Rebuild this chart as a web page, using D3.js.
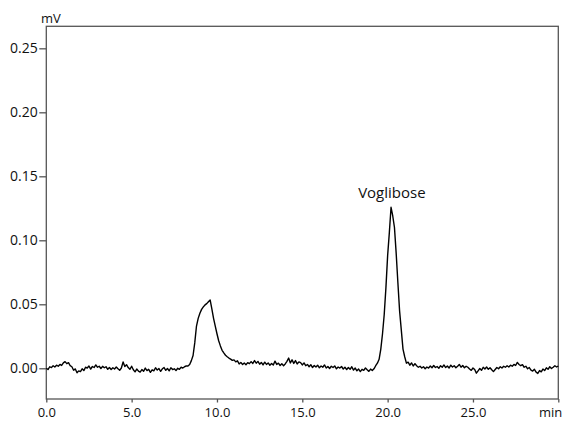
<!DOCTYPE html>
<html>
<head>
<meta charset="utf-8">
<script src="https://cdn.jsdelivr.net/npm/d3@7"></script>
<style>
  body { margin: 0; background: #fff; }
  svg { display: block; font-family: "Open Sans", sans-serif; }
</style>
</head>
<body>
<svg id="chart" width="564" height="421"></svg>
<script>
// Chromatogram - Voglibose

// detector signal (mV), one reading every 0.1 min from 0.0 to 30.0 min
var sampleStep = 0.1;
var signal = [
  0.0000, -0.0010, 0.0012, 0.0005, 0.0020, 0.0010, 0.0024, 0.0016, 0.0030, 0.0022,   // 0.0
  0.0042, 0.0052, 0.0036, 0.0044, 0.0020, 0.0012, -0.0015, -0.0005, -0.0035, -0.0020, // 1.0
  -0.0026, -0.0004, -0.0018, 0.0008, 0.0002, 0.0018, -0.0006, 0.0014, 0.0006, 0.0026, // 2.0
  0.0008, 0.0016, -0.0002, 0.0015, 0.0004, 0.0012, -0.0008, 0.0006, -0.0010, 0.0004,  // 3.0
  -0.0006, 0.0010, -0.0004, -0.0016, 0.0002, 0.0050, 0.0014, 0.0028, 0.0006, -0.0008, // 4.0
  0.0016, -0.0012, -0.0028, -0.0006, -0.0022, -0.0030, -0.0010, -0.0024, 0.0002, -0.0018, // 5.0
  -0.0008, -0.0032, -0.0012, -0.0020, 0.0004, -0.0014, -0.0002, -0.0024, -0.0004, 0.0006, // 6.0
  -0.0016, -0.0002, -0.0020, 0.0004, -0.0010, -0.0004, -0.0018, 0.0000, -0.0008, 0.0008,  // 7.0
  0.0002, 0.0012, 0.0018, 0.0018, 0.0030, 0.0060, 0.0100, 0.0200, 0.0330, 0.0390,     // 8.0
  0.0430, 0.0460, 0.0480, 0.0495, 0.0505, 0.0520, 0.0534, 0.0465, 0.0390, 0.0330,     // 9.0
  0.0270, 0.0215, 0.0175, 0.0140, 0.0120, 0.0102, 0.0090, 0.0080, 0.0072, 0.0062,     // 10.0
  0.0066, 0.0050, 0.0058, 0.0034, 0.0046, 0.0030, 0.0042, 0.0028, 0.0044, 0.0036,     // 11.0
  0.0052, 0.0038, 0.0060, 0.0040, 0.0054, 0.0032, 0.0046, 0.0026, 0.0048, 0.0030,     // 12.0
  0.0042, 0.0024, 0.0038, 0.0026, 0.0056, 0.0030, 0.0040, 0.0022, 0.0036, 0.0020,     // 13.0
  0.0034, 0.0054, 0.0080, 0.0042, 0.0066, 0.0038, 0.0060, 0.0034, 0.0050, 0.0044,     // 14.0
  0.0026, 0.0042, 0.0020, 0.0030, 0.0012, 0.0028, 0.0006, 0.0022, 0.0010, 0.0024,     // 15.0
  0.0004, 0.0018, 0.0008, 0.0026, 0.0002, 0.0014, -0.0002, 0.0016, 0.0006, 0.0018,    // 16.0
  -0.0004, 0.0010, 0.0002, 0.0014, -0.0006, 0.0008, -0.0010, 0.0006, -0.0008, 0.0012, // 17.0
  -0.0014, 0.0002, -0.0020, -0.0006, -0.0026, -0.0008, -0.0016, 0.0002, -0.0012, -0.0024, // 18.0
  -0.0006, -0.0018, -0.0004, 0.0020, 0.0040, 0.0070, 0.0150, 0.0270, 0.0420, 0.0630,  // 19.0
  0.0880, 0.1060, 0.1258, 0.1190, 0.1100, 0.0900, 0.0670, 0.0450, 0.0300, 0.0150,     // 20.0
  0.0090, 0.0040, 0.0048, 0.0024, 0.0042, 0.0018, 0.0036, 0.0020, 0.0008, 0.0016,     // 21.0
  0.0002, 0.0012, -0.0004, 0.0010, 0.0002, 0.0018, 0.0004, 0.0022, 0.0006, 0.0014,    // 22.0
  0.0000, 0.0020, 0.0008, 0.0026, 0.0006, 0.0018, 0.0002, 0.0024, 0.0010, 0.0020,     // 23.0
  0.0004, 0.0016, 0.0030, 0.0008, 0.0022, 0.0004, 0.0016, 0.0008, -0.0006, -0.0016,   // 24.0
  0.0002, -0.0010, -0.0038, -0.0020, -0.0002, -0.0016, 0.0008, -0.0006, 0.0010, -0.0008, // 25.0
  0.0004, -0.0012, -0.0026, -0.0010, 0.0006, -0.0004, 0.0012, 0.0002, 0.0016, 0.0008,  // 26.0
  0.0020, 0.0010, 0.0024, 0.0016, 0.0030, 0.0022, 0.0046, 0.0030, 0.0020, 0.0028,     // 27.0
  0.0008, 0.0016, -0.0004, 0.0006, -0.0014, -0.0022, -0.0008, -0.0030, -0.0040, -0.0018, // 28.0
  -0.0028, -0.0006, -0.0018, 0.0004, -0.0008, 0.0012, -0.0002, 0.0008, 0.0020, 0.0010, // 29.0
  0.0018                                                                               // 30.0
];

var xTicks = [0, 5, 10, 15, 20, 25, 30];
var yTicks = [0.00, 0.05, 0.10, 0.15, 0.20, 0.25];
var peakLabels = [{ name: 'Voglibose', time: 20.25, height: 0.1258 }];

var svg = d3.select('#chart');
var margin = {top: 26.3, right: 5.7, bottom: 22, left: 46.3},
    width = 564 - margin.left - margin.right,
    height = 421 - margin.top - margin.bottom;

var x = d3.scaleLinear().domain([0, 30]).range([margin.left, margin.left + width]);
var y = d3.scaleLinear().domain([-0.024, 0.2672]).range([margin.top + height, margin.top]);

var frameColor = '#555';

// plot frame
svg.append('rect')
  .attr('x', margin.left)
  .attr('y', margin.top)
  .attr('width', width)
  .attr('height', height)
  .attr('fill', 'none')
  .attr('stroke', frameColor)
  .attr('stroke-width', 1.3);

// x axis
var xAxis = svg.append('g')
  .attr('transform', 'translate(0,' + (margin.top + height) + ')')
  .call(d3.axisBottom(x)
    .tickValues(xTicks)
    .tickSize(3.5)
    .tickPadding(5)
    .tickFormat(function(d){ return d === 30 ? 'min' : d3.format('.1f')(d); }));

// y axis
var yAxis = svg.append('g')
  .attr('transform', 'translate(' + margin.left + ',0)')
  .call(d3.axisLeft(y)
    .tickValues(yTicks)
    .tickSize(7)
    .tickPadding(1.5)
    .tickFormat(d3.format('.2f')));

[xAxis, yAxis].forEach(function(g){
  g.select('.domain').remove();
  g.selectAll('.tick line').attr('stroke', frameColor).attr('stroke-width', 1.3);
  g.selectAll('.tick text')
    .attr('fill', '#111')
    .style('font-size', '14px')
    .style('font-family', '"Open Sans", sans-serif');
});
xAxis.selectAll('.tick text').style('font-size', '13px');

// the "min" label sits flush with the right edge
xAxis.selectAll('.tick text')
  .filter(function(d){ return d === 30; })
  .attr('text-anchor', 'end')
  .attr('x', 3.5);

// y unit
svg.append('text')
  .attr('x', 41)
  .attr('y', 23)
  .attr('fill', '#111')
  .style('font-size', '13px')
  .text('mV');

// trace
var line = d3.line()
  .x(function(d, i){ return x(i * sampleStep); })
  .y(function(d){ return y(d); });

svg.append('path')
  .datum(signal)
  .attr('d', line)
  .attr('fill', 'none')
  .attr('stroke', '#000')
  .attr('stroke-width', 1.4)
  .attr('stroke-linejoin', 'round');

// peak names
svg.selectAll('.peak-label')
  .data(peakLabels)
  .enter()
  .append('text')
    .attr('class', 'peak-label')
    .attr('x', function(d){ return x(d.time); })
    .attr('y', function(d){ return y(d.height) - 9; })
    .attr('text-anchor', 'middle')
    .attr('fill', '#111')
    .style('font-size', '15px')
    .text(function(d){ return d.name; });
</script>
</body>
</html>
